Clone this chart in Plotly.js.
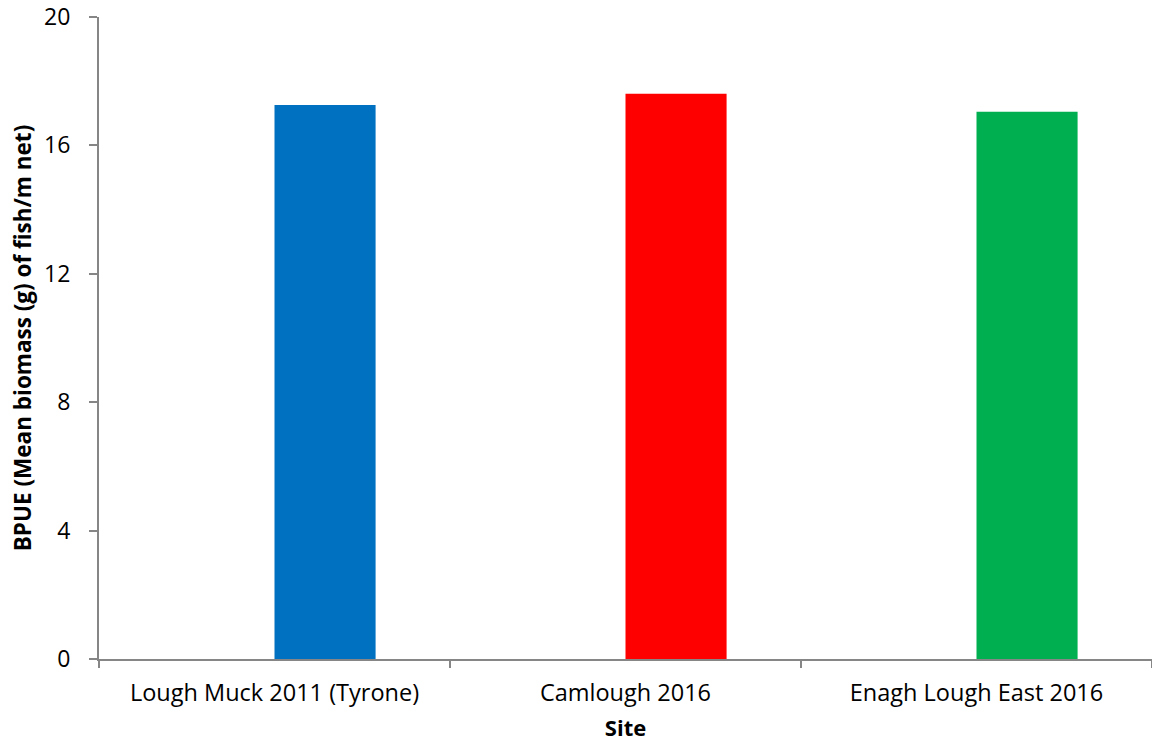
<!DOCTYPE html>
<html>
<head>
<meta charset="utf-8">
<script src="https://cdn.plot.ly/plotly-3.0.1.min.js"></script>
<style>
  html, body { margin: 0; padding: 0; background: #fff; }
  #chart { width: 1152px; height: 742px; }
</style>
</head>
<body>
<div id="chart"></div>
<script>
// Sites surveyed and their mean biomass per unit effort
const sites = ["Lough Muck 2011 (Tyrone)", "Camlough 2016", "Enagh Lough East 2016"];
const bpue = [17.26, 17.61, 17.05];
const barColors = ["#0070C0", "#FF0000", "#00B050"];
const yTicks = [0, 4, 8, 12, 16, 20];

const FONT = "'Open Sans', 'Liberation Sans', sans-serif";
const AXIS_GREY = "#868686";

const trace = {
  type: "bar",
  x: sites,
  y: bpue,
  width: 0.288,
  offset: 0,           // bars sit just right of each category centre
  marker: { color: barColors, line: { width: 0 } },
  hoverinfo: "x+y"
};

const layout = {
  width: 1152,
  height: 742,
  margin: { l: 99, r: 0, t: 17, b: 83 },
  paper_bgcolor: "#ffffff",
  plot_bgcolor: "#ffffff",
  showlegend: false,
  font: { family: FONT, color: "#000000", size: 20 },
  xaxis: {
    type: "category",
    range: [-0.5, 2.5],
    showgrid: false,
    zeroline: false,
    showline: true,
    linecolor: AXIS_GREY,
    linewidth: 2,
    ticks: "outside",
    tickson: "boundaries",
    ticklen: 7,
    tickwidth: 2,
    tickcolor: AXIS_GREY,
    ticklabelstandoff: 12,
    tickfont: { family: FONT, size: 23.5, color: "#000" },
    title: { text: "<b>Site</b>", font: { family: FONT, size: 22, color: "#000" }, standoff: 16 }
  },
  yaxis: {
    range: [0, 20],
    tickmode: "array",
    tickvals: yTicks,
    ticktext: yTicks.map(String),
    showgrid: false,
    zeroline: false,
    showline: true,
    linecolor: AXIS_GREY,
    linewidth: 2,
    ticks: "outside",
    ticklen: 8,
    tickwidth: 2,
    tickcolor: AXIS_GREY,
    ticklabelstandoff: 14,
    tickfont: { family: FONT, size: 23, color: "#000" },
    title: { text: "<b>BPUE (Mean biomass (g) of fish/m net)</b>", font: { family: FONT, size: 22.5, color: "#000" }, standoff: 6 }
  }
};

Plotly.newPlot("chart", [trace], layout, { displayModeBar: false, staticPlot: true });
</script>
</body>
</html>
